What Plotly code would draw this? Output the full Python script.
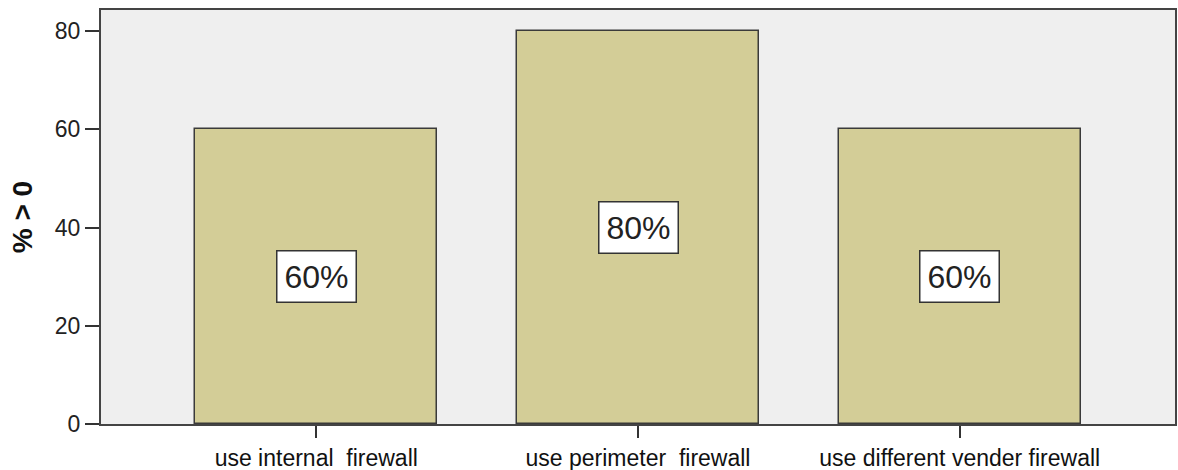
import plotly.graph_objects as go

categories = ["use internal\u00a0\u00a0firewall", "use perimeter\u00a0\u00a0firewall", "use different vender firewall"]
values = [60, 80, 60]
labels = ["60%", "80%", "60%"]
y_ticks = [0, 20, 40, 60, 80]

FONT = "Liberation Sans, Arial, sans-serif"
xs = list(range(len(categories)))

fig = go.Figure()
fig.add_trace(go.Bar(
    x=xs, y=values, width=0.753,
    marker=dict(color="#D3CD97", line=dict(color="#3a3a3a", width=1.5)),
    hoverinfo="skip", showlegend=False,
))

for xi, v, lab in zip(xs, values, labels):
    fig.add_annotation(
        x=xi, y=v / 2, text=lab, showarrow=False,
        font=dict(family=FONT, size=32, color="#222222"),
        bgcolor="white", bordercolor="#333333", borderwidth=1.5, borderpad=7,
    )

fig.update_layout(
    width=1178, height=470,
    margin=dict(l=101, r=3, t=10, b=46),
    paper_bgcolor="white", plot_bgcolor="#EFEFEF",
    font=dict(family=FONT, color="#222222"),
    bargap=0,
)
fig.update_xaxes(
    range=[-0.669, 2.669], tickmode="array", tickvals=xs, ticktext=categories,
    ticks="outside", ticklen=12, tickwidth=1.5, tickcolor="#333333",
    tickfont=dict(size=23, family=FONT, color="#111111"),
    showline=True, linecolor="#444444", linewidth=2, mirror=True,
    showgrid=False, zeroline=False, automargin=False,
)
fig.update_yaxes(
    range=[0, 84.3], tickmode="array", tickvals=y_ticks,
    ticks="outside", ticklen=14, tickwidth=1.5, tickcolor="#333333",
    tickfont=dict(size=23, family=FONT, color="#222222"),
    showline=True, linecolor="#444444", linewidth=2, mirror=True,
    showgrid=False, zeroline=False, automargin=False,
    title=dict(text="<b>% > 0</b>", font=dict(size=28, family=FONT, color="#111111"), standoff=14),
)

fig.write_html("out.html")
